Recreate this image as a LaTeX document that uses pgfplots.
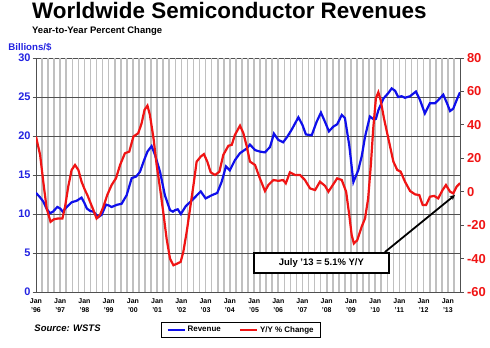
\documentclass[border=0pt]{standalone}
\usepackage{fontspec}
\setmainfont{Liberation Sans}
\usepackage{pgfplots}
\pgfplotsset{compat=1.18}
\usetikzlibrary{arrows.meta}
\definecolor{revblue}{RGB}{15,15,235}
\definecolor{yoyred}{RGB}{240,20,20}
\definecolor{lblblue}{RGB}{35,35,225}
\definecolor{gridlight}{RGB}{192,192,192}
\definecolor{griddark}{RGB}{80,80,80}
\begin{document}
\begin{tikzpicture}
\path[use as bounding box] (-36bp,-56bp) rectangle (454bp,292bp);
\node[anchor=base west, inner sep=0pt, font=\fontsize{22.5}{24}\selectfont\bfseries] at (-4bp,273.7bp) {Worldwide Semiconductor Revenues};
\node[anchor=base west, inner sep=0pt, font=\fontsize{9.5}{11}\selectfont\bfseries] at (-4bp,258bp) {Year-to-Year Percent Change};
\node[anchor=base west, inner sep=0pt, font=\fontsize{9.7}{11}\selectfont\bfseries, text=lblblue] at (-27.7bp,241.7bp) {Billions/\$};
\node[anchor=base west, inner sep=0pt, font=\fontsize{9.5}{11}\selectfont\bfseries\itshape] at (-1.7bp,-39bp) {Source: WSTS};
\begin{axis}[
  at={(0,0)}, anchor=south west, scale only axis, width=424bp, height=234bp,
  xmin=1996, xmax=2013.5, ymin=0, ymax=30,
  ytick={0,5,...,30},
  xtick={1996,...,2013},
  xticklabels={{Jan\\'96},{Jan\\'97},{Jan\\'98},{Jan\\'99},{Jan\\'00},{Jan\\'01},{Jan\\'02},{Jan\\'03},{Jan\\'04},{Jan\\'05},{Jan\\'06},{Jan\\'07},{Jan\\'08},{Jan\\'09},{Jan\\'10},{Jan\\'11},{Jan\\'12},{Jan\\'13}},
  xmajorgrids=false, ymajorgrids=false,
  axis line style={griddark, line width=1bp},
  tick pos=left, tick align=outside, major tick length=3.5bp,
  tick style={griddark, line width=0.8bp},
  xtick style={/pgfplots/major tick length=0pt},
  /pgf/number format/assume math mode=true,
  yticklabel style={font=\fontsize{11}{12}\selectfont\bfseries, text=lblblue, xshift=1.5bp},
  xticklabel style={font=\fontsize{7}{8.3}\selectfont\bfseries, align=center, text=black},
]
\pgfplotsinvokeforeach{1,...,69}{
  \draw[gridlight, line width=1.6bp] (axis cs:{1996+#1/4},0) -- (axis cs:{1996+#1/4},30);
}
\pgfplotsinvokeforeach{5,10,15,20,25}{
  \draw[griddark, line width=0.9bp] (axis cs:1996,#1) -- (axis cs:2013.5,#1);
}
\addplot[revblue, line width=2.2bp] coordinates {
(1996.00,12.7) (1996.15,12.2) (1996.30,11.6) (1996.45,10.6) (1996.58,10.1) (1996.70,10.3)
(1996.88,10.9) (1997.00,10.7) (1997.10,10.3) (1997.27,10.9) (1997.47,11.5) (1997.68,11.7)
(1997.88,12.1) (1998.00,11.4) (1998.10,10.7) (1998.23,10.4) (1998.37,10.3) (1998.57,9.6)
(1998.71,9.9) (1998.89,11.2) (1999.00,11.1) (1999.12,10.9) (1999.36,11.2) (1999.53,11.3)
(1999.74,12.4) (1999.95,14.6) (2000.13,14.8) (2000.29,15.4) (2000.45,16.8) (2000.60,18.0)
(2000.77,18.7) (2000.91,17.6) (2001.12,15.4) (2001.32,12.4) (2001.53,10.5) (2001.65,10.3)
(2001.74,10.5) (2001.85,10.6) (2001.98,10.0) (2002.18,11.0) (2002.45,11.8) (2002.80,12.9)
(2003.00,12.0) (2003.25,12.4) (2003.48,12.7) (2003.66,14.1) (2003.84,16.1) (2004.00,15.6)
(2004.21,16.9) (2004.42,17.8) (2004.70,18.4) (2004.83,18.9) (2005.04,18.2) (2005.24,18.0)
(2005.45,17.9) (2005.66,18.6) (2005.82,20.3) (2006.00,19.5) (2006.20,19.2) (2006.37,19.9)
(2006.55,20.8) (2006.83,22.4) (2007.00,21.4) (2007.14,20.2) (2007.38,20.1) (2007.58,21.8)
(2007.76,23.0) (2007.93,21.8) (2008.09,20.6) (2008.27,21.2) (2008.43,21.5) (2008.62,22.7)
(2008.75,22.3) (2008.93,18.8) (2009.10,14.1) (2009.30,15.6) (2009.45,17.5) (2009.58,19.9)
(2009.78,22.5) (2009.95,22.1) (2010.03,22.2) (2010.13,23.3) (2010.34,24.8) (2010.54,25.5)
(2010.68,26.1) (2010.82,25.8) (2010.95,25.0) (2011.09,25.1) (2011.23,24.9) (2011.44,25.1)
(2011.68,25.7) (2011.85,24.6) (2012.05,22.9) (2012.26,24.2) (2012.47,24.2) (2012.60,24.6)
(2012.81,25.3) (2012.95,24.3) (2013.09,23.2) (2013.22,23.5) (2013.36,24.6) (2013.50,25.6)
};
\end{axis}
\begin{axis}[
  at={(0,0)}, anchor=south west, scale only axis, width=424bp, height=234bp,
  xmin=1996, xmax=2013.5, ymin=-60, ymax=80,
  ytick={-60,-40,...,80},
  axis y line*=right, axis x line=none,
  axis line style={griddark, line width=1bp},
  tick align=outside, major tick length=3.5bp,
  ytick style={griddark, line width=0.8bp},
  /pgf/number format/assume math mode=true,
  yticklabel style={font=\fontsize{13}{14}\selectfont\bfseries, text=yoyred},
  legend columns=2,
  legend style={at={(0.4835,-0.162)}, anchor=center, draw=black, line width=0.9bp,
    font=\fontsize{8}{9}\selectfont\bfseries, inner xsep=5bp, inner ysep=1.5bp,
    /tikz/every even column/.append style={column sep=16bp}},
]
\addlegendimage{revblue, line width=2.2bp}
\addlegendentry{Revenue}
\addplot[yoyred, line width=2.2bp] coordinates {
(1996.00,33) (1996.17,22) (1996.30,6) (1996.44,-10) (1996.60,-18) (1996.74,-16.5)
(1996.92,-16) (1997.09,-16) (1997.20,-9) (1997.33,3) (1997.47,13) (1997.61,16)
(1997.75,13) (1997.88,6) (1998.02,1) (1998.12,-2) (1998.23,-6) (1998.37,-11)
(1998.50,-16) (1998.64,-14) (1998.78,-9) (1998.94,-2) (1999.12,4) (1999.30,8)
(1999.47,16) (1999.67,23) (1999.85,24) (2000.02,33) (2000.22,35) (2000.36,41)
(2000.48,49) (2000.60,51.5) (2000.70,46) (2000.85,32) (2000.98,16) (2001.12,2)
(2001.25,-12) (2001.39,-28) (2001.53,-40) (2001.67,-44) (2001.83,-43) (2001.97,-42)
(2002.08,-36) (2002.22,-24) (2002.36,-10) (2002.50,4) (2002.63,18) (2002.80,21)
(2002.93,22.5) (2003.07,18) (2003.21,11.6) (2003.39,10) (2003.57,12) (2003.73,22)
(2003.94,27.5) (2004.08,28) (2004.21,34) (2004.42,39.5) (2004.56,35) (2004.70,27)
(2004.83,18) (2005.04,16) (2005.24,8) (2005.45,0.4) (2005.59,4) (2005.80,7)
(2006.00,6.5) (2006.20,7) (2006.31,5) (2006.48,11.6) (2006.69,10) (2006.90,10)
(2007.10,7) (2007.31,2) (2007.52,1) (2007.72,6) (2007.93,3.5) (2008.07,0)
(2008.25,4) (2008.43,8) (2008.62,7) (2008.80,0) (2008.93,-14) (2009.03,-26)
(2009.12,-31) (2009.26,-29) (2009.44,-21) (2009.58,-16) (2009.71,-4) (2009.82,16)
(2009.92,38) (2010.03,56) (2010.13,59.5) (2010.22,55) (2010.36,44) (2010.54,32)
(2010.75,18) (2010.91,13) (2011.05,12) (2011.23,6) (2011.44,0.4) (2011.65,-1.6)
(2011.82,-2) (2011.96,-8) (2012.10,-8) (2012.26,-3) (2012.43,-2.5) (2012.60,-4)
(2012.78,1) (2012.92,4) (2013.09,0) (2013.22,-1) (2013.36,3) (2013.50,5.1)
};
\addlegendentry{Y/Y \% Change}
\draw[black, line width=1.8bp, -{Stealth[length=5bp,width=5bp]}] (axis cs:2010.40,-36.1) -- (axis cs:2013.29,-2);
\node[draw=black, line width=1.6bp, fill=white, minimum width=135bp, minimum height=20bp, inner sep=0pt,
  font=\fontsize{9.5}{11}\selectfont\bfseries] at (axis cs:2007.78,-42.5) {July '13 = 5.1\% Y/Y};
\end{axis}
\end{tikzpicture}
\end{document}
